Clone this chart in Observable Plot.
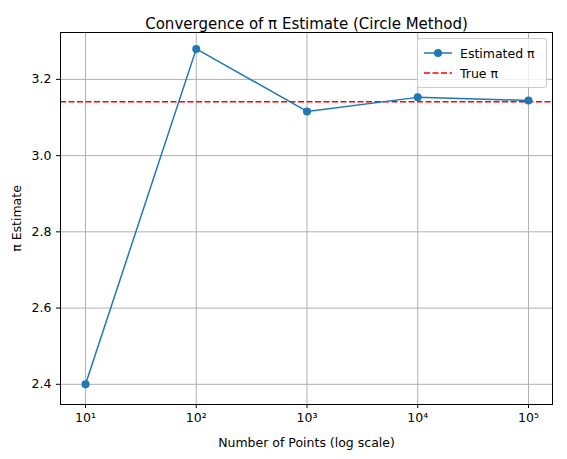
<!DOCTYPE html>
<html>
<head>
<meta charset="utf-8">
<script src="https://cdn.jsdelivr.net/npm/d3@7"></script>
<script src="https://cdn.jsdelivr.net/npm/@observablehq/plot@0.6"></script>
<style>
  body { margin: 0; background: #fff; font-family: "DejaVu Sans", sans-serif; }
  #wrap { position: relative; width: 567px; height: 459px; }
  #legend { position: absolute; left: 417px; top: 38px; width: 128px; padding: 4px 0;
    border: 1px solid #ccc; border-radius: 3px; background: rgba(255,255,255,0.8); font-size: 12.5px; }
  .row { display: flex; align-items: center; height: 20px; }
  .row svg { margin: 0 8px 0 6px; }
</style>
</head>
<body>
<div id="wrap">
  <div id="chart"></div>
  <div id="legend">
    <div class="row"><svg width="28" height="10"><line x1="0" y1="5" x2="28" y2="5" stroke="#1f77b4" stroke-width="1.5"/><circle cx="14" cy="5" r="4" fill="#1f77b4"/></svg>Estimated π</div>
    <div class="row"><svg width="28" height="10"><line x1="0" y1="5" x2="28" y2="5" stroke="red" stroke-width="1.5" stroke-dasharray="6,2.5"/></svg>True π</div>
  </div>
</div>
<script>
const points = [10, 100, 1000, 10000, 100000]
const estimates = [2.4, 3.28, 3.116, 3.1528, 3.1448]
const yTicks = [2.4, 2.6, 2.8, 3.0, 3.2]
const sup = {1: '¹', 2: '²', 3: '³', 4: '⁴', 5: '⁵'}
const data = points.map((n, i) => ({n, est: estimates[i]}))

const chart = Plot.plot({
  width: 567,
  height: 459,
  marginTop: 32,
  marginBottom: 55,
  marginLeft: 60,
  marginRight: 15,
  style: {fontFamily: 'DejaVu Sans, sans-serif', fontSize: '12.5px', color: '#000'},
  x: {
    type: 'log',
    domain: [10 ** 0.774, 10 ** 5.217],
    ticks: points,
    tickFormat: d => '10' + sup[Math.round(Math.log10(d))],
    tickSize: 4,
    label: 'Number of Points (log scale)',
    labelAnchor: 'center',
    labelArrow: 'none',
    labelOffset: 42,
  },
  y: {
    domain: [2.347, 3.323],
    ticks: yTicks,
    tickFormat: d3.format('.1f'),
    tickSize: 4,
    label: 'π Estimate',
    labelAnchor: 'center',
    labelArrow: 'none',
    labelOffset: 48,
  },
  marks: [
    Plot.gridX(points, {stroke: '#b0b0b0', strokeOpacity: 1}),
    Plot.gridY(yTicks, {stroke: '#b0b0b0', strokeOpacity: 1}),
    Plot.ruleY([Math.PI], {stroke: 'red', strokeWidth: 1.5, strokeDasharray: '6,2.5'}),
    Plot.line(data, {x: 'n', y: 'est', stroke: '#1f77b4', strokeWidth: 1.5}),
    Plot.dot(data, {x: 'n', y: 'est', fill: '#1f77b4', r: 4}),
    Plot.frame({stroke: '#000'}),
    Plot.text(['Convergence of π Estimate (Circle Method)'], {
      frameAnchor: 'top', dy: -14, fontSize: 15, fill: '#000'
    }),
  ],
})
d3.select('#chart').append(() => chart)
</script>
</body>
</html>
